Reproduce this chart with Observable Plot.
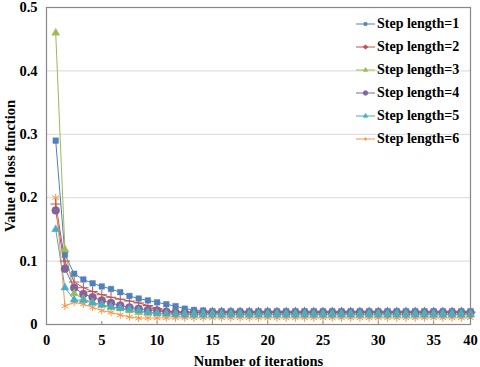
<!DOCTYPE html>
<html>
<head>
<meta charset="utf-8">
<script src="https://cdn.jsdelivr.net/npm/d3@7"></script>
<script src="https://cdn.jsdelivr.net/npm/@observablehq/plot@0.6"></script>
<style>
  html, body { margin: 0; padding: 0; background: #fff; }
  #wrap { position: relative; width: 480px; height: 367px; font-family: "Liberation Serif", "Times New Roman", serif; }
  #wrap svg text { font-family: "Liberation Serif", "Times New Roman", serif !important; font-weight: bold; }
  #legend { position: absolute; left: 355px; top: 12px; font-family: "Liberation Serif", "Times New Roman", serif; font-weight: bold; font-size: 14px; color: #000; }
  #legend .row { display: flex; align-items: center; height: 23px; }
  #legend svg { display: block; margin-right: 1px; }
</style>
</head>
<body>
<div id="wrap"><div id="legend"></div></div>
<script>
// Data point index along the x axis (as plotted)
const iterations = [1,2,3,4,5,6,7,8,9,10,11,12,13,14,15,16,17,18,19,20,21,22,23,24,25,26,27,28,29,30,31,32,33,34,35,36,37,38,39,40,41,42,43,44,45,46];

const seriesNames = ["Step length=1","Step length=2","Step length=3","Step length=4","Step length=5","Step length=6"];

const step1 = [0.29,0.11,0.080,0.071,0.065,0.060,0.056,0.051,0.045,0.041,0.038,0.035,0.032,0.029,0.025,0.023,0.022,
  0.021,0.021,0.021,0.021,0.021,0.021,0.021,0.021,0.021,0.021,0.021,0.021,0.021,0.021,0.021,0.021,0.021,0.021,0.021,0.021,0.021,0.021,0.021,0.021,0.021,0.021,0.021,0.021,0.021];
const step2 = [0.19,0.10,0.067,0.058,0.052,0.047,0.043,0.040,0.037,0.034,0.030,0.025,0.021,0.020,
  0.0195,0.0195,0.0195,0.0195,0.0195,0.0195,0.0195,0.0195,0.0195,0.0195,0.0195,0.0195,0.0195,0.0195,0.0195,0.0195,0.0195,0.0195,0.0195,0.0195,0.0195,0.0195,0.0195,0.0195,0.0195,0.0195,0.0195,0.0195,0.0195,0.0195,0.0195,0.0195];
const step3 = [0.46,0.118,0.049,0.040,0.035,0.031,0.027,0.025,0.022,0.019,0.018,0.017,
  0.0163,0.0163,0.0163,0.0163,0.0163,0.0163,0.0163,0.0163,0.0163,0.0163,0.0163,0.0163,0.0163,0.0163,0.0163,0.0163,0.0163,0.0163,0.0163,0.0163,0.0163,0.0163,0.0163,0.0163,0.0163,0.0163,0.0163,0.0163,0.0163,0.0163,0.0163,0.0163,0.0163,0.0163];
const step4 = [0.18,0.088,0.058,0.048,0.043,0.038,0.034,0.030,0.027,0.025,0.023,0.022,0.020,0.019,
  0.0185,0.0185,0.0185,0.0185,0.0185,0.0185,0.0185,0.0185,0.0185,0.0185,0.0185,0.0185,0.0185,0.0185,0.0185,0.0185,0.0185,0.0185,0.0185,0.0185,0.0185,0.0185,0.0185,0.0185,0.0185,0.0185,0.0185,0.0185,0.0185,0.0185,0.0185,0.0185];
const step5 = [0.15,0.058,0.039,0.038,0.034,0.031,0.028,0.026,0.024,0.022,0.019,0.018,0.017,0.016,
  0.0153,0.0153,0.0153,0.0153,0.0153,0.0153,0.0153,0.0153,0.0153,0.0153,0.0153,0.0153,0.0153,0.0153,0.0153,0.0153,0.0153,0.0153,0.0153,0.0153,0.0153,0.0153,0.0153,0.0153,0.0153,0.0153,0.0153,0.0153,0.0153,0.0153,0.0153,0.0153];
const step6 = [0.20,0.029,0.035,0.032,0.027,0.022,0.019,0.015,0.012,0.010,
  0.0103,0.0103,0.0103,0.0103,0.0103,0.0103,0.0103,0.0103,0.0103,0.0103,0.0103,0.0103,0.0103,0.0103,0.0103,0.0103,0.0103,0.0103,0.0103,0.0103,0.0103,0.0103,0.0103,0.0103,0.0103,0.0103,0.0103,0.0103,0.0103,0.0103,0.0103,0.0103,0.0103,0.0103,0.0103,0.0103];

const colors = ["#4F81BD","#C0504D","#9BBB59","#8064A2","#4BACC6","#F79646"];
const symbols = ["square","plus","triangle","circle","triangle","asterisk"];

// Axis ticks (positions on the plotted index axis) and their printed labels
const xTickPos = [0,6,12,18,24,30,36,42,46];
const xTickLabels = ["0","5","10","15","20","25","30","35","40"];
const yTicks = [0,0.1,0.2,0.3,0.4,0.5];
const yTickLabels = ["0","0.1","0.2","0.3","0.4","0.5"];

const allSeries = [step1, step2, step3, step4, step5, step6];
const rows = [];
allSeries.forEach((vals, s) => vals.forEach((v, i) => rows.push({x: iterations[i], y: v, s: seriesNames[s]})));

const markerSize = {"Step length=1": 1.8, "Step length=2": 2.1, "Step length=3": 1.6, "Step length=4": 2.8, "Step length=5": 1.6, "Step length=6": 2.3};
const markerStroke = {"Step length=1": 0.4, "Step length=2": 1, "Step length=3": 0.4, "Step length=4": 0.4, "Step length=5": 0.4, "Step length=6": 1};

const chart = Plot.plot({
  width: 480,
  height: 367,
  marginLeft: 46,
  marginRight: 10,
  marginTop: 7,
  marginBottom: 43,
  style: {fontFamily: "'Liberation Serif', 'Times New Roman', serif", fontWeight: "bold", fontSize: "14px", color: "#000", background: "transparent"},
  x: {domain: [0, 46], axis: null},
  y: {domain: [0, 0.5], axis: null},
  color: {domain: seriesNames, range: colors},
  symbol: {domain: seriesNames, range: symbols},
  marks: [
    Plot.gridY(yTicks.slice(1, -1), {stroke: "#d9d9d9", strokeOpacity: 1}),
    Plot.axisY({ticks: yTicks, tickFormat: (d, i) => yTickLabels[i], tickSize: 0, tickPadding: 9, fontSize: 14.5, label: "Value of loss function", labelAnchor: "center", labelArrow: "none", labelOffset: 42, fill: "#000"}),
    Plot.axisX({ticks: xTickPos, tickFormat: (d, i) => xTickLabels[i], tickSize: -3, tickPadding: 13, fontSize: 14.5, stroke: "#888", label: "Number of iterations", labelAnchor: "center", labelArrow: "none", labelOffset: 41, fill: "#000"}),
    Plot.line(rows, {x: "x", y: "y", z: "s", stroke: "s", strokeWidth: 1}),
    Plot.dot(rows, {x: "x", y: "y", symbol: "s", stroke: "s", fill: "s", r: d => markerSize[d.s], strokeWidth: d => markerStroke[d.s]}),
    Plot.frame({stroke: "#888", strokeWidth: 1.2})
  ]
});
chart.style.position = "absolute";
chart.style.left = "0px";
chart.style.top = "0px";
document.getElementById("wrap").prepend(chart);

// Legend (inside plot, top-right)
const legend = document.getElementById("legend");
const symFns = {square: d3.symbolSquare, plus: d3.symbolCross, triangle: d3.symbolTriangle, circle: d3.symbolCircle, asterisk: d3.symbolAsterisk};
seriesNames.forEach((name, i) => {
  const row = document.createElement("div");
  row.className = "row";
  const sw = d3.create("svg").attr("width", 21).attr("height", 10);
  sw.append("line").attr("x1", 1).attr("x2", 20).attr("y1", 5).attr("y2", 5).attr("stroke", colors[i]).attr("stroke-width", 1);
  sw.append("path").attr("transform", "translate(10.5,5)")
    .attr("d", d3.symbol(symFns[symbols[i]], i === 3 ? 16 : 8)())
    .attr("fill", colors[i]).attr("stroke", colors[i]).attr("stroke-width", 0.8);
  row.appendChild(sw.node());
  const t = document.createElement("span");
  t.textContent = name;
  row.appendChild(t);
  legend.appendChild(row);
});
</script>
</body>
</html>
